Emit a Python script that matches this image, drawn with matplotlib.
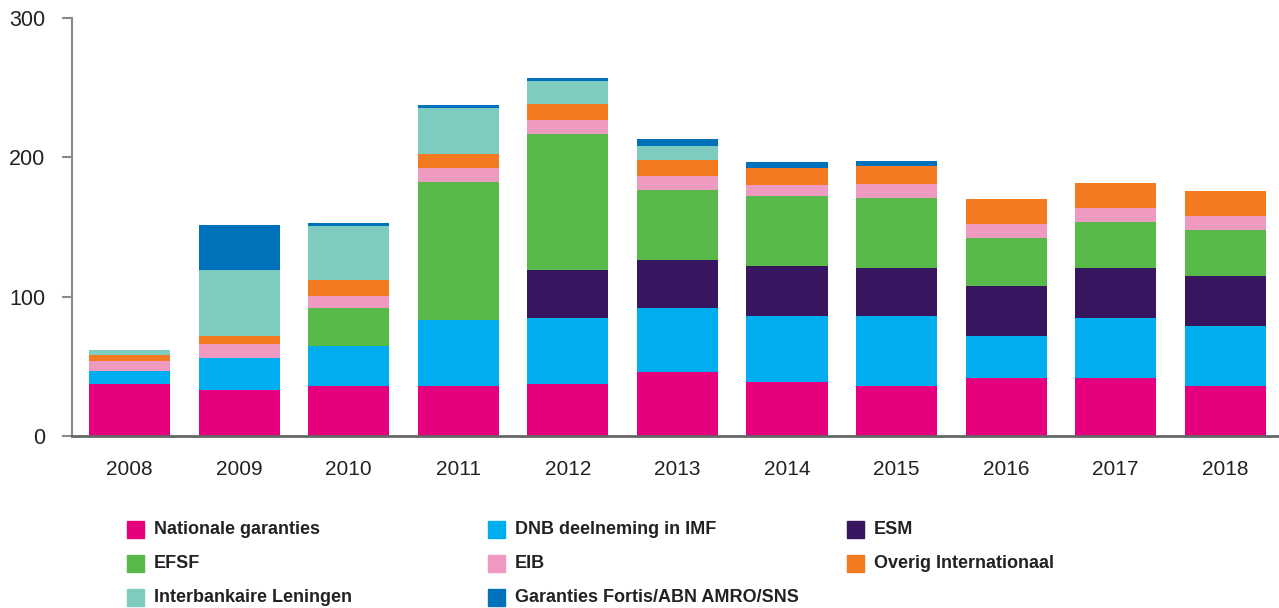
import numpy as np
import matplotlib.pyplot as plt
from matplotlib.patches import Rectangle

plt.rcParams['font.family'] = ['Liberation Sans', 'DejaVu Sans']

years = ['2008', '2009', '2010', '2011', '2012', '2013', '2014', '2015', '2016', '2017', '2018']

# bedragen per categorie (miljard euro)
nationale = [37, 33, 36, 36, 37, 46, 39, 36, 41.5, 41.5, 36]
dnb_imf = [10, 23, 28.5, 47.5, 47.5, 46, 47, 50, 30, 43, 43]
esm = [0, 0, 0, 0, 34.5, 34.5, 36, 34.5, 36, 36, 36]
efsf = [0, 0, 27.5, 99, 97.5, 50, 50, 50.5, 34.5, 33, 33]
eib = [7, 10, 8.5, 10, 10, 10, 8.5, 10, 10, 10, 10]
overig = [4, 6, 11.5, 10, 11.5, 11.5, 11.5, 13, 18, 18, 18]
interbank = [3.5, 47, 39, 33, 17, 10, 0, 0, 0, 0, 0]
fortis = [0, 32.5, 2, 2, 2, 5, 5, 3.5, 0, 0, 0]

labels = ['Nationale garanties', 'DNB deelneming in IMF', 'ESM', 'EFSF', 'EIB',
          'Overig Internationaal', 'Interbankaire Leningen', 'Garanties Fortis/ABN AMRO/SNS']
series = [nationale, dnb_imf, esm, efsf, eib, overig, interbank, fortis]
colors = ['#E6007E', '#00AEEF', '#37155F', '#57B947', '#F09AC2', '#F47A22', '#7ECCBF', '#0072BC']

fig = plt.figure(figsize=(12.79, 6.08), dpi=100)
ax = fig.add_axes([72 / 1279, 1 - 436 / 608, (1279 - 72) / 1279, (436 - 18) / 608])

x = np.arange(len(years))
bottom = np.zeros(len(years))
for vals, col in zip(series, colors):
    vals = np.array(vals, dtype=float)
    ax.bar(x, vals, 0.74, bottom=bottom, color=col, linewidth=0)
    bottom += vals

ax.set_xlim(-0.525, 10.49)
ax.set_ylim(0, 300)
ax.set_yticks([0, 100, 200, 300])
ax.set_xticks(x)
ax.set_xticklabels(years)

for s in ['top', 'right']:
    ax.spines[s].set_visible(False)
ax.spines['left'].set_color('#8a8a8a')
ax.spines['bottom'].set_color('#666666')
ax.spines['left'].set_linewidth(1.5)
ax.spines['bottom'].set_linewidth(2)
ax.tick_params(axis='y', length=7, width=1.5, color='#8a8a8a', labelsize=15.5,
               labelcolor='#222222', pad=12)
ax.tick_params(axis='x', length=0, labelsize=15, labelcolor='#222222', pad=17)

# legenda
col_x = [127, 488, 847]
row_y = [529, 563, 597]
for i, (lab, col) in enumerate(zip(labels, colors)):
    cx = col_x[i % 3]
    cy = row_y[i // 3]
    fig.patches.append(Rectangle((cx / 1279, 1 - (cy + 8.5) / 608), 17 / 1279, 17 / 608,
                                 transform=fig.transFigure, color=col, figure=fig))
    fig.text((cx + 27) / 1279, 1 - cy / 608, lab, fontsize=13, fontweight='bold',
             color='#222222', va='center', ha='left')

fig.savefig('out.png', dpi=100)
